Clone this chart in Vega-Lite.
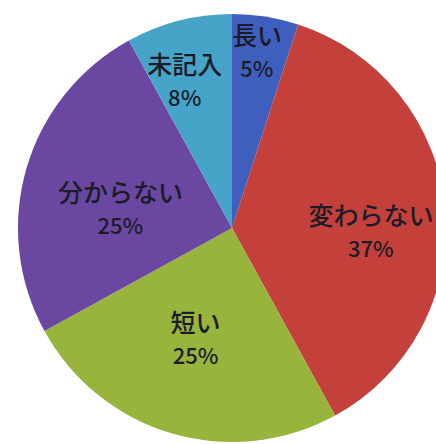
{
  "$schema": "https://vega.github.io/schema/vega-lite/v6.json",
  "width": 436,
  "height": 444,
  "padding": 0,
  "autosize": {"type": "none"},
  "background": "#ffffff",
  "view": {"stroke": null},
  "data": {
    "values": [
      {"i": 1, "cat": "長い", "pct": 5},
      {"i": 2, "cat": "変わらない", "pct": 37},
      {"i": 3, "cat": "短い", "pct": 25},
      {"i": 4, "cat": "分からない", "pct": 25},
      {"i": 5, "cat": "未記入", "pct": 8}
    ]
  },
  "transform": [{"calculate": "datum.pct + '%'", "as": "pctLabel"}],
  "encoding": {
    "theta": {"field": "pct", "type": "quantitative", "stack": true},
    "order": {"field": "i", "type": "quantitative"}
  },
  "layer": [
    {
      "mark": {"type": "arc", "outerRadius": 214, "x": 232, "y": 228},
      "encoding": {
        "color": {
          "field": "cat",
          "type": "nominal",
          "scale": {
            "domain": ["長い", "変わらない", "短い", "分からない", "未記入"],
            "range": ["#3f5fbe", "#c3413a", "#98b43d", "#6a47a0", "#46a4c8"]
          },
          "legend": null
        }
      }
    },
    {
      "mark": {
        "type": "text",
        "x": 232,
        "y": 228,
        "dy": -16,
        "fontSize": 25,
        "font": "Noto Sans CJK JP",
        "fontWeight": 500,
        "fill": "#1c1c28",
        "thetaOffset": {"expr": "datum.cat==='長い'?-0.016:datum.cat==='変わらない'?0.129:datum.cat==='短い'?0.031:datum.cat==='分からない'?-0.126:-0.063"}
      },
      "encoding": {
        "detail": {"field": "cat"},
        "text": {"field": "cat"},
        "radius": {"value": {"expr": "datum.cat==='長い'?177:datum.cat==='変わらない'?139:datum.cat==='短い'?118:datum.cat==='分からない'?113:153"}}
      }
    },
    {
      "mark": {
        "type": "text",
        "x": 232,
        "y": 228,
        "dy": 17,
        "fontSize": 22,
        "font": "Noto Sans CJK JP",
        "fontWeight": 500,
        "fill": "#1c1c28",
        "thetaOffset": {"expr": "datum.cat==='長い'?-0.016:datum.cat==='変わらない'?0.129:datum.cat==='短い'?0.031:datum.cat==='分からない'?-0.126:-0.063"}
      },
      "encoding": {
        "detail": {"field": "cat"},
        "text": {"field": "pctLabel"},
        "radius": {"value": {"expr": "datum.cat==='長い'?177:datum.cat==='変わらない'?139:datum.cat==='短い'?118:datum.cat==='分からない'?113:153"}}
      }
    }
  ]
}
